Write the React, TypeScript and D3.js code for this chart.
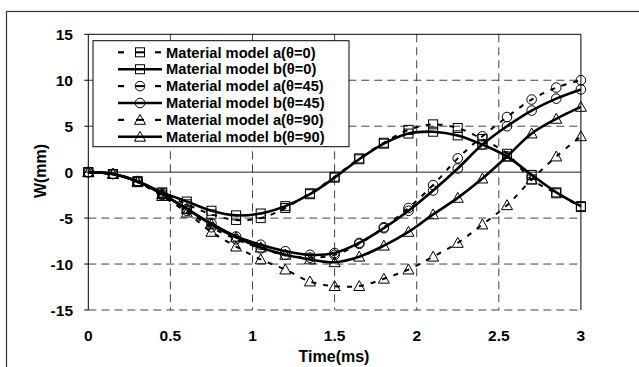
import * as d3 from 'd3';

// time axis (ms), a marker every 0.15 ms
const times = d3.range(21).map((i) => +(i * 0.15).toFixed(2));

const aTheta0 = [0, -0.2, -1.0, -2.3, -3.5, -4.6, -5.2, -5.0, -3.9, -2.3, -0.5, 1.5, 3.2, 4.6, 5.2, 4.8, 3.6, 2.0, -0.8, -2.3, -3.8];
const bTheta0 = [0, -0.2, -1.0, -2.2, -3.2, -4.2, -4.7, -4.5, -3.7, -2.4, -0.6, 1.4, 3.1, 4.2, 4.4, 4.0, 3.0, 1.7, -0.3, -2.2, -3.7];
const aTheta45 = [0, -0.2, -1.0, -2.5, -4.2, -6.0, -7.3, -8.3, -9.0, -9.3, -9.0, -7.8, -6.0, -3.9, -1.4, 1.5, 3.9, 6.0, 7.9, 9.2, 10.0];
const bTheta45 = [0, -0.2, -1.0, -2.4, -4.0, -5.6, -7.0, -7.9, -8.6, -9.0, -8.8, -7.7, -6.1, -4.2, -2.0, 0.4, 3.0, 5.0, 6.7, 8.0, 9.0];
const aTheta90 = [0, -0.2, -1.1, -2.6, -4.4, -6.5, -8.1, -9.5, -10.6, -11.9, -12.4, -12.4, -11.6, -10.6, -9.2, -7.7, -5.7, -3.6, -0.8, 1.7, 3.9];
const bTheta90 = [0, -0.2, -1.0, -2.4, -4.0, -5.7, -7.1, -8.2, -9.0, -9.5, -9.8, -9.2, -8.0, -6.5, -4.6, -2.8, -0.7, 1.7, 4.2, 5.8, 7.1];

const xTicks = [0, 0.5, 1, 1.5, 2, 2.5, 3];
const yTicks = [-15, -10, -5, 0, 5, 10, 15];

type Marker = 'square' | 'circle' | 'triangle';

const series: { name: string; values: number[]; marker: Marker; dashed: boolean }[] = [
  { name: 'Material model a(θ=0)', values: aTheta0, marker: 'square', dashed: true },
  { name: 'Material model b(θ=0)', values: bTheta0, marker: 'square', dashed: false },
  { name: 'Material model a(θ=45)', values: aTheta45, marker: 'circle', dashed: true },
  { name: 'Material model b(θ=45)', values: bTheta45, marker: 'circle', dashed: false },
  { name: 'Material model a(θ=90)', values: aTheta90, marker: 'triangle', dashed: true },
  { name: 'Material model b(θ=90)', values: bTheta90, marker: 'triangle', dashed: false },
];

const W = 639;
const H = 367;
const plot = { left: 88.3, right: 580.9, top: 34.3, bottom: 310 };
const font = '"Liberation Sans", Arial, sans-serif';

function MarkerShape({ type, cx, cy }: { type: Marker; cx: number; cy: number }) {
  const common = { fill: 'none', stroke: '#000', strokeWidth: 1 };
  if (type === 'square') return <rect x={cx - 4.5} y={cy - 4.5} width={9} height={9} {...common} />;
  if (type === 'circle') return <circle cx={cx} cy={cy} r={4.8} {...common} />;
  const s = 5.5;
  return <path d={`M${cx},${cy - s}L${cx + s},${cy + s * 0.8}L${cx - s},${cy + s * 0.8}Z`} {...common} />;
}

export default function App() {
  const x = d3.scaleLinear().domain([0, 3]).range([plot.left, plot.right]);
  const y = d3.scaleLinear().domain([-15, 15]).range([plot.bottom, plot.top]);

  const line = d3
    .line<number>()
    .x((_, i) => x(times[i]))
    .y((d) => y(d))
    .curve(d3.curveCatmullRom.alpha(0.5));

  const legendX = 93;
  const legendY = 40.7;
  const rowH = 16.9;

  return (
    <svg
      width={W}
      height={H}
      style={{ position: 'absolute', left: 0, top: 0, background: '#fff' }}
      fontFamily={font}
      fontWeight="bold"
    >
      {/* outer frame, clipped at right and bottom */}
      <rect x={6.5} y={11.5} width={W + 10} height={H + 10} fill="none" stroke="#333" strokeWidth={1.2} />

      {/* grid */}
      {xTicks.slice(1, -1).map((t) => (
        <line key={'gx' + t} x1={x(t)} x2={x(t)} y1={plot.top} y2={plot.bottom} stroke="#444" strokeWidth={1} strokeDasharray="8,5" />
      ))}
      {yTicks.filter((v) => v !== 0 && v !== 15).map((v) => (
        <line key={'gy' + v} x1={plot.left} x2={plot.right} y1={y(v)} y2={y(v)} stroke="#444" strokeWidth={1} strokeDasharray="8,5" />
      ))}
      <line x1={plot.left} x2={plot.right} y1={y(0)} y2={y(0)} stroke="#222" strokeWidth={1} />

      {/* plot border: left, top, right solid (bottom is the dashed grid line) */}
      <path
        d={`M${plot.left},${plot.bottom}V${plot.top}H${plot.right}V${plot.bottom}`}
        fill="none"
        stroke="#000"
        strokeWidth={1}
      />

      {/* y ticks */}
      {yTicks.map((v) => (
        <g key={'yt' + v}>
          <line x1={plot.left - 4} x2={plot.left} y1={y(v)} y2={y(v)} stroke="#000" />
          <text x={73} y={y(v)} dy="0.36em" textAnchor="end" fontSize={15.5}>
            {v}
          </text>
        </g>
      ))}
      {xTicks.map((t) => (
        <text key={'xt' + t} x={x(t)} y={341} textAnchor="middle" fontSize={15.5}>
          {t}
        </text>
      ))}
      <text x={334} y={362} textAnchor="middle" fontSize={16}>
        Time(ms)
      </text>
      <text transform="translate(46,171) rotate(-90)" textAnchor="middle" fontSize={16}>
        W(mm)
      </text>

      {/* series */}
      {series.map((s) => (
        <g key={s.name}>
          <path
            d={line(s.values) || ''}
            fill="none"
            stroke="#000"
            strokeWidth={s.dashed ? 2 : 2.6}
            strokeDasharray={s.dashed ? '5,7' : undefined}
          />
          {s.values.map((v, i) => (
            <MarkerShape key={i} type={s.marker} cx={x(times[i])} cy={y(v)} />
          ))}
        </g>
      ))}

      {/* legend */}
      <rect x={legendX} y={legendY} width={256} height={106} fill="#fff" stroke="#000" strokeWidth={1} />
      {series.map((s, i) => {
        const cy = legendY + 11.6 + i * rowH;
        return (
          <g key={'lg' + s.name}>
            {s.dashed ? (
              <>
                <line x1={118} x2={124} y1={cy} y2={cy} stroke="#000" strokeWidth={2.2} />
                <line x1={136} x2={144} y1={cy} y2={cy} stroke="#000" strokeWidth={2} />
                <line x1={155} x2={161} y1={cy} y2={cy} stroke="#000" strokeWidth={2.2} />
              </>
            ) : (
              <line x1={118} x2={162} y1={cy} y2={cy} stroke="#000" strokeWidth={2.6} />
            )}
            <MarkerShape type={s.marker} cx={140} cy={cy} />
            <text x={166} y={cy} dy="0.36em" fontSize={14.7}>
              {s.name}
            </text>
          </g>
        );
      })}
    </svg>
  );
}
